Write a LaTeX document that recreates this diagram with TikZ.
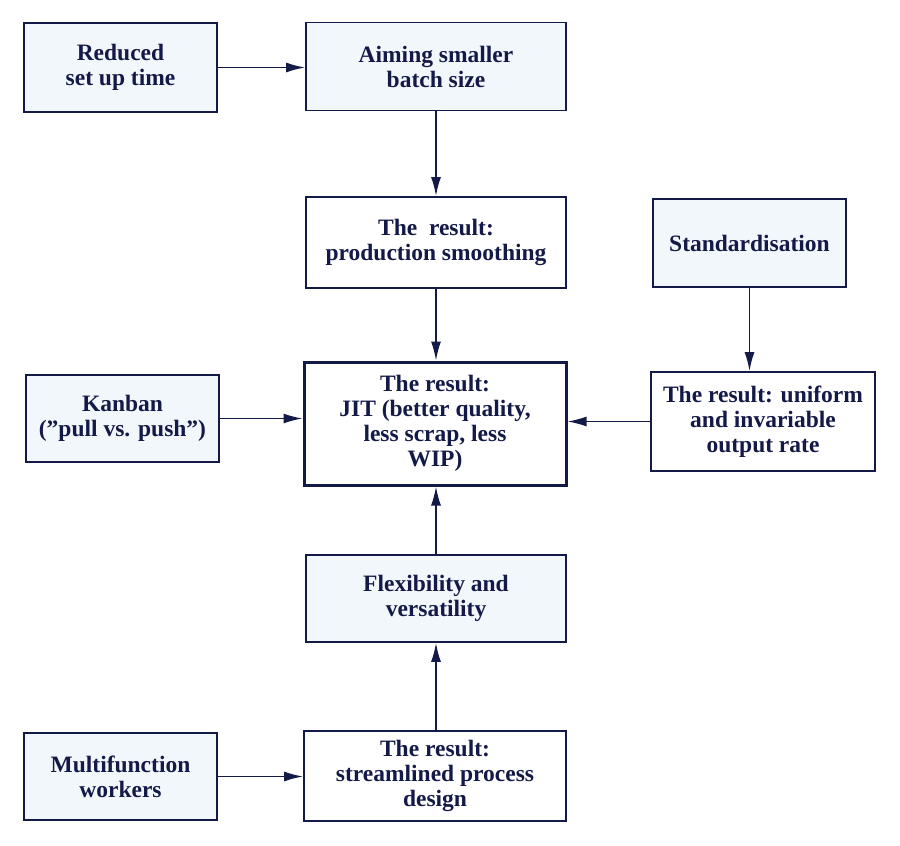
\documentclass[tikz,border=0pt]{standalone}
\usepackage{fontspec}
\setmainfont{Liberation Serif}
\usetikzlibrary{arrows.meta}
\definecolor{navy}{RGB}{20,26,72}
\definecolor{tint}{RGB}{242,247,251}
\begin{document}
\begin{tikzpicture}[x=1pt,y=1pt,
    box/.style={draw=navy,line width=1.8pt,rectangle,align=center,inner sep=0pt,
      text=navy,font=\fontsize{23.5}{25}\selectfont\bfseries},
    tinted/.style={box,fill=tint},
    plain/.style={box,fill=white},
    link/.style={draw=navy,line width=1.6pt,-{Latex[length=19pt,width=10pt]}}]
			\useasboundingbox (0,0) rectangle (900,-846);
			\node [tinted,minimum width=193,minimum height=89] (reduced) at (120.5,-67.5) {Reduced\\set up time};
			\node [tinted,minimum width=260,minimum height=88] (batch) at (436,-66.5) {Aiming smaller\\batch size};
			\node [plain,minimum width=260,minimum height=91] (smooth) at (436,-242.5) {The\ \ result:\\production smoothing};
			\node [tinted,minimum width=193,minimum height=88] (standard) at (749.5,-243) {Standardisation};
			\node [tinted,minimum width=193,minimum height=87] (kanban) at (122.5,-418.5) {Kanban\\(”pull vs. push”)};
			\node [plain,line width=3pt,minimum width=262,minimum height=123] (jit) at (435,-423.5) {The result:\\JIT (better quality,\\less scrap, less\\WIP)};
			\node [plain,minimum width=224,minimum height=99] (uniform) at (763,-421.5) {The result: uniform\\and invariable\\output rate};
			\node [tinted,minimum width=260,minimum height=87] (flex) at (436,-598.5) {Flexibility and\\versatility};
			\node [tinted,minimum width=193,minimum height=87] (multi) at (120.5,-776.5) {Multifunction\\workers};
			\node [plain,minimum width=262,minimum height=90] (stream) at (435,-776) {The result:\\streamlined process\\design};
			\draw [link] (reduced.east) -- (batch.west |- reduced.east);
			\draw [link] (batch.south) -- (smooth.north);
			\draw [link] (smooth.south) -- (smooth.south |- jit.north);
			\draw [link] (standard.south) -- (standard.south |- uniform.north);
			\draw [link] (kanban.east) -- (jit.west |- kanban.east);
			\draw [link] (uniform.west) -- (jit.east |- uniform.west);
			\draw [link] (flex.north) -- (flex.north |- jit.south);
			\draw [link] (stream.north -| flex.south) -- (flex.south);
			\draw [link] (multi.east) -- (stream.west |- multi.east);
\end{tikzpicture}
\end{document}
